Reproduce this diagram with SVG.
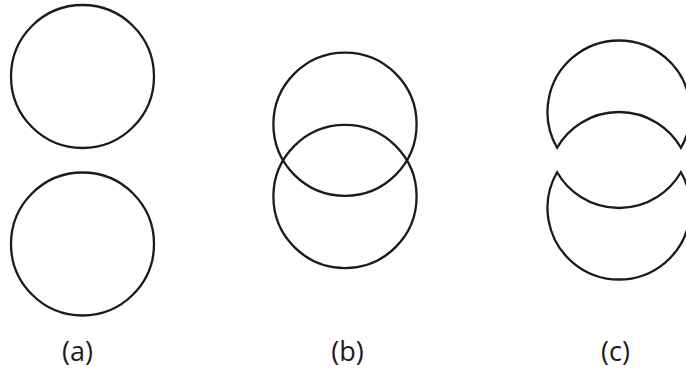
<svg xmlns="http://www.w3.org/2000/svg" width="686" height="373" viewBox="0 0 686 373">
<style>
.s{fill:none;stroke:#1e1a18;stroke-width:2.3}
.t{font-family:"Open Sans","Noto Sans",sans-serif;font-size:27px;fill:#1e1a18;text-anchor:middle}
</style>
<rect width="686" height="373" fill="#ffffff"/>
<g id="a">
<circle class="s" cx="82.5" cy="76.5" r="71.5"/>
<circle class="s" cx="82.5" cy="244" r="71.5"/>
<text class="t" x="77.5" y="361">(a)</text>
</g>
<g id="b">
<circle class="s" cx="345" cy="124.2" r="71.6"/>
<circle class="s" cx="345" cy="196.5" r="71.6"/>
<text class="t" x="347.5" y="361">(b)</text>
</g>
<g id="c">
<path class="s" d="M557.08 147.75 A71.5 71.5 0 1 1 680.92 147.75 A71.5 71.5 0 0 0 557.08 147.75 Z"/>
<path class="s" d="M557.08 172.25 A71.5 71.5 0 1 0 680.92 172.25 A71.5 71.5 0 0 1 557.08 172.25 Z"/>
<text class="t" x="615.5" y="361">(c)</text>
</g>
<g id="connectors"/>
</svg>
